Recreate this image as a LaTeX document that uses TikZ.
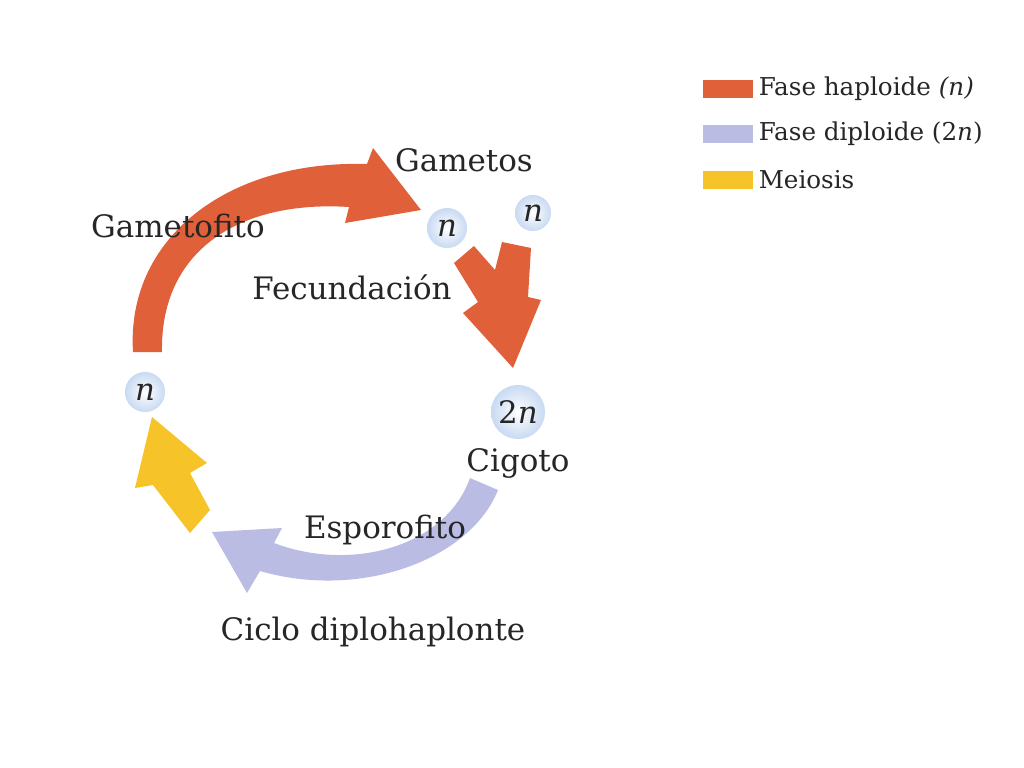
\documentclass[tikz,border=0pt]{standalone}
\usepackage{fontspec}
\setmainfont{DejaVu Serif}
\usetikzlibrary{positioning}
\definecolor{haplo}{RGB}{224,96,58}
\definecolor{diplo}{RGB}{186,188,228}
\definecolor{meio}{RGB}{246,196,40}
\definecolor{cellblue}{RGB}{200,218,242}
\tikzstyle{phase} = [draw=none]

\begin{document}
\begin{tikzpicture}[x=0.025cm,y=-0.025cm,
            cell/.style = {circle, shading=radial, inner color=white,
              outer color=cellblue, inner sep=0mm, text=black!85},
            lbl/.style = {font=\fontsize{22}{26}\selectfont, text=black!85, inner sep=0mm},
            swatch/.style = {rectangle, minimum width=12.5mm, minimum height=4.3mm, inner sep=0mm},
            key/.style = {font=\fontsize{17.5}{21}\selectfont, text=black!85, inner sep=0mm}]
            \useasboundingbox[fill=white] (0,0) rectangle (1024,768);
            % haploid arc (gametofito)
            \fill[phase, haplo] (133,352) .. controls (126,240) and (225,160) .. (367,164)
              -- (373,148) -- (421,210) -- (345,223) -- (349,207)
              .. controls (240,200) and (160,250) .. (162,352) -- cycle;
            % fecundacion
            \fill[phase, haplo] (454,263) -- (474,246) -- (495,270) -- (502,242) -- (531,248)
              -- (528,297) -- (541,300) -- (513,368) -- (463,313) -- (478,302) -- cycle;
            % diploid arc (esporofito)
            \fill[phase, diplo] (498,490) .. controls (470,560) and (360,600) .. (260,571)
              -- (247,593) -- (212,532) -- (282,528) -- (274,543)
              .. controls (350,572) and (445,548) .. (470,478) -- cycle;
            % meiosis
            \fill[phase, meio] (152,417) -- (207,463) -- (190,473) -- (210,510) -- (190,533)
              -- (153,485) -- (135,488) -- cycle;
            % cells
            \node[cell, minimum size=10mm] (n1) at (447,228) {\fontsize{22}{26}\selectfont\textit{n}};
            \node[cell, minimum size=9mm] (n2) at (533,213) {\fontsize{22}{26}\selectfont\textit{n}};
            \node[cell, minimum size=10mm] (n3) at (145,392) {\fontsize{22}{26}\selectfont\textit{n}};
            \node[cell, minimum size=13.5mm] (zyg) at (518,412) {\fontsize{22}{26}\selectfont 2\textit{n}};
            % labels
            \node[lbl] (gam) at (464,160) {Gametos};
            \node[lbl] (gfito) at (178,226) {Gametofito};
            \node[lbl] (fec) at (352,287) {Fecundación};
            \node[lbl, below=2.2mm of zyg] (cig) {Cigoto};
            \node[lbl] (spfito) at (385,530) {Esporofito};
            \node[lbl] (ciclo) at (373,632) {Ciclo diplohaplonte};
            % legend
            \node[swatch, fill=haplo] (k1) at (728,89) {};
            \node[swatch, fill=diplo] (k2) at (728,134) {};
            \node[swatch, fill=meio] (k3) at (728,180) {};
            \node[key, right=1.3mm of k1] (t1) {Fase haploide \textit{(n)}};
            \node[key, right=1.3mm of k2] (t2) {Fase diploide (2\textit{n})};
            \node[key, right=1.3mm of k3] (t3) {Meiosis};
\end{tikzpicture}
\end{document}
